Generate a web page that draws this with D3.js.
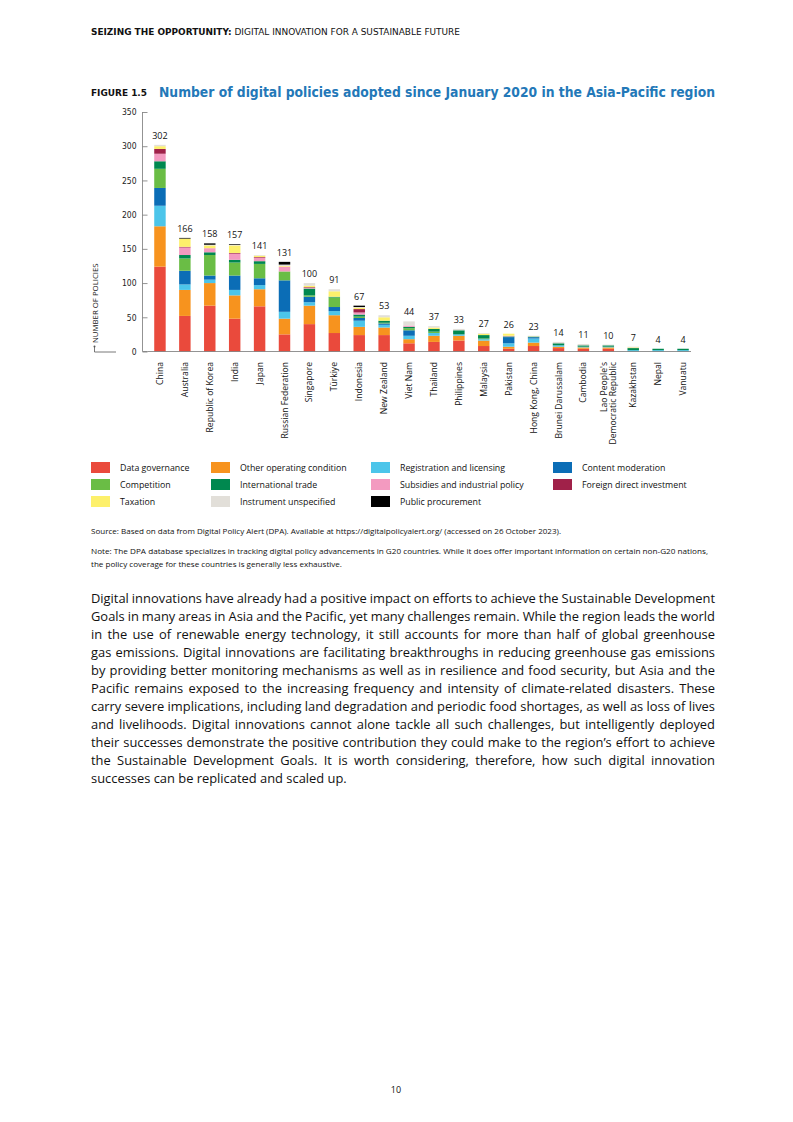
<!DOCTYPE html>
<html><head><meta charset="utf-8">
<script src="https://cdn.jsdelivr.net/npm/d3@7"></script>
<style>
body{margin:0;background:#fff;}
svg{display:block;}
</style></head>
<body>
<svg id="page" width="793" height="1122"></svg>
<script>
const countries = ["China","Australia","Republic of Korea","India","Japan","Russian Federation","Singapore","Türkiye","Indonesia","New Zealand","Viet Nam","Thailand","Philippines","Malaysia","Pakistan","Hong Kong, China","Brunei Darussalam","Cambodia","Lao People's Democratic Republic","Kazakhstan","Nepal","Vanuatu"];
const totals = [302,166,158,157,141,131,100,91,67,53,44,37,33,27,26,23,14,11,10,7,4,4];
const categories = ["Data governance","Other operating condition","Registration and licensing","Content moderation","Competition","International trade","Subsidies and industrial policy","Foreign direct investment","Taxation","Instrument unspecified","Public procurement"];
const colors = ["#ea4a3c","#f7931e","#4cc5ea","#0b6db6","#6abd45","#00884f","#f39ac0","#a02149","#fdf06b","#e2dfd9","#000000"];
const dataGovernance        = [124,52,67,48,66,25,40,27,24,24,12,14,16,8,4,8,5,4,4,0,0,0];
const otherOperating        = [59,38,33,34,25,23,27,26,12,11,6,9,7,8,3,5,2,2,2,0,0,0];
const registrationLicensing = [30,8,5,8,6,10,5,6,9,4,5,4,2,2,5,6,2,1,1,2,2,2];
const contentModeration     = [26,20,6,21,10,46,8,6,4,2,8,0,0,0,9,2,0,0,0,0,0,0];
const competition           = [28,18,30,19,21,13,2,14,2,1,3,2,0,1,0,1,0,0,0,0,0,0];
const internationalTrade    = [11,5,4,4,4,0,10,1,3,3,2,4,6,5,1,0,3,2,2,3,2,2];
const subsidies             = [11,11,6,9,5,7,1,0,3,0,2,0,0,0,1,0,0,0,0,0,0,0];
const foreignInvestment     = [7,1,0,1,1,0,1,0,5,0,0,0,0,0,0,0,0,0,0,0,0,0];
const taxation              = [4,12,4,11,2,1,2,8,2,5,0,2,0,2,3,0,0,0,0,1,0,0];
const instrumentUnspecified = [2,0,1,1,1,2,4,3,1,3,6,2,2,1,0,1,2,2,1,1,0,0];
const publicProcurement     = [0,1,2,1,0,4,0,0,2,0,0,0,0,0,0,0,0,0,0,0,0,0];
const yTicks = [0,50,100,150,200,250,300,350];

const series = [dataGovernance,otherOperating,registrationLicensing,contentModeration,competition,internationalTrade,subsidies,foreignInvestment,taxation,instrumentUnspecified,publicProcurement];
const rows = countries.map((c,i)=>{const r={country:c}; categories.forEach((k,j)=>r[k]=series[j][i]); return r;});

const svg = d3.select("#page");
const cond = "'DejaVu Sans Condensed','Liberation Sans Narrow','DejaVu Sans',sans-serif";
const sans = "'Open Sans','Noto Sans',sans-serif";

// Header
const h = svg.append("text").attr("x",91).attr("y",35).attr("font-family",cond).attr("font-size",8.6).attr("fill","#111");
h.append("tspan").attr("font-weight","bold").text("SEIZING THE OPPORTUNITY:");
h.append("tspan").text(" DIGITAL INNOVATION FOR A SUSTAINABLE FUTURE");
h.attr("textLength",369).attr("lengthAdjust","spacingAndGlyphs");

svg.append("text").attr("x",91).attr("y",96).attr("font-family",cond).attr("font-weight","bold")
  .attr("font-size",9).attr("fill","#111").attr("textLength",56).attr("lengthAdjust","spacingAndGlyphs").text("FIGURE 1.5");
svg.append("text").attr("x",159).attr("y",97).attr("font-family",cond).attr("font-weight","bold")
  .attr("font-size",14).attr("fill","#2378b8").attr("textLength",556).attr("lengthAdjust","spacingAndGlyphs")
  .text("Number of digital policies adopted since January 2020 in the Asia-Pacific region");

// Chart
const x = d3.scaleBand().domain(countries).range([147.5,695.5]).paddingInner(0.54).paddingOuter(0.27);
const y = d3.scaleLinear().domain([0,350]).range([351.5,112]);

const stack = d3.stack().keys(categories)(rows);
const g = svg.append("g");
stack.forEach((layer,j)=>{
  g.selectAll(null).data(layer).join("rect")
    .attr("x",d=>x(d.data.country)).attr("width",x.bandwidth())
    .attr("y",d=>y(d[1])).attr("height",d=>Math.max(0,y(d[0])-y(d[1])))
    .attr("fill",colors[j]);
});

// value labels
g.selectAll(null).data(countries).join("text")
  .attr("x",d=>x(d)+x.bandwidth()/2).attr("y",(d,i)=>y(totals[i])-6)
  .attr("text-anchor","middle").attr("font-family",sans).attr("font-size",9).attr("fill","#111")
  .text((d,i)=>totals[i]);

// y axis
const ya = svg.append("g").attr("transform","translate(147.5,0)")
  .call(d3.axisLeft(y).tickValues(yTicks).tickSize(5).tickPadding(6));
ya.select(".domain").attr("stroke","#777").attr("stroke-width",0.8).attr("d","M-5,112V351.5H0");
ya.selectAll(".tick line").attr("stroke","#777").attr("stroke-width",0.8);
ya.selectAll(".tick text").attr("font-family",cond).attr("font-size",8.5).attr("fill","#222");

// baseline
svg.append("line").attr("x1",147.5).attr("x2",691).attr("y1",351.5).attr("y2",351.5).attr("stroke","#777").attr("stroke-width",0.8);

// y label
svg.append("text").attr("transform","translate(98,343) rotate(-90)").attr("font-family",sans)
  .attr("font-size",7.8).attr("fill","#222").text("NUMBER OF POLICIES");
svg.append("path").attr("d","M94.5,347V352H116").attr("fill","none").attr("stroke","#555").attr("stroke-width",0.8);
svg.append("circle").attr("cx",94.5).attr("cy",346.5).attr("r",1).attr("fill","#555");

// x labels
countries.forEach((c,i)=>{
  const cx = x(c)+x.bandwidth()/2;
  const parts = c.startsWith("Lao") ? ["Lao People's","Democratic Republic"] : [c];
  parts.forEach((p,k)=>{
    const off = (k-(parts.length-1)/2)*9.5 + 3;
    svg.append("text").attr("transform",`translate(${cx+off},362) rotate(-90)`)
      .attr("text-anchor","end").attr("font-family",sans).attr("font-size",8.6).attr("fill","#111").text(p);
  });
});

// legend
const legCols = [91,211,371,553];
const legItems = [[0,0,0],[1,1,0],[2,2,0],[3,3,0],[4,0,1],[5,1,1],[6,2,1],[7,3,1],[8,0,2],[9,1,2],[10,2,2]];
legItems.forEach(([k,col,row])=>{
  const lx = legCols[col], ly = 462 + row*17;
  svg.append("rect").attr("x",lx).attr("y",ly).attr("width",19).attr("height",11).attr("fill",colors[k]);
  svg.append("text").attr("x",lx+29).attr("y",ly+9).attr("font-family",sans).attr("font-size",8.8).attr("fill","#111").text(categories[k]);
});

// source / note
const small = (t,yy,len)=>{const e=svg.append("text").attr("x",91).attr("y",yy).attr("font-family",sans).attr("font-size",7.4).attr("fill","#111").text(t); if(len) e.attr("textLength",len).attr("lengthAdjust","spacingAndGlyphs");};
small("Source: Based on data from Digital Policy Alert (DPA). Available at https://digitalpolicyalert.org/ (accessed on 26 October 2023).",534,470);
small("Note: The DPA database specializes in tracking digital policy advancements in G20 countries. While it does offer important information on certain non-G20 nations,",554,617);
small("the policy coverage for these countries is generally less exhaustive.",567,251);

// body paragraph
const lines = [
"Digital innovations have already had a positive impact on efforts to achieve the Sustainable Development",
"Goals in many areas in Asia and the Pacific, yet many challenges remain. While the region leads the world",
"in the use of renewable energy technology, it still accounts for more than half of global greenhouse",
"gas emissions. Digital innovations are facilitating breakthroughs in reducing greenhouse gas emissions",
"by providing better monitoring mechanisms as well as in resilience and food security, but Asia and the",
"Pacific remains exposed to the increasing frequency and intensity of climate-related disasters. These",
"carry severe implications, including land degradation and periodic food shortages, as well as loss of lives",
"and livelihoods. Digital innovations cannot alone tackle all such challenges, but intelligently deployed",
"their successes demonstrate the positive contribution they could make to the region\u2019s effort to achieve",
"the Sustainable Development Goals. It is worth considering, therefore, how such digital innovation",
"successes can be replicated and scaled up."];
lines.forEach((t,i)=>{
  const e = svg.append("text").attr("x",91).attr("y",603+i*18).attr("font-family",sans).attr("font-size",12.9).attr("fill","#111").text(t);
  if(i<lines.length-1){
    const w = e.node().getComputedTextLength();
    const spaces = (t.match(/ /g)||[]).length;
    e.attr("word-spacing",(624-w)/spaces);
  }
});

svg.append("text").attr("x",396).attr("y",1093).attr("text-anchor","middle").attr("font-family",sans).attr("font-size",9).attr("fill","#111").text("10");
</script>
</body></html>
